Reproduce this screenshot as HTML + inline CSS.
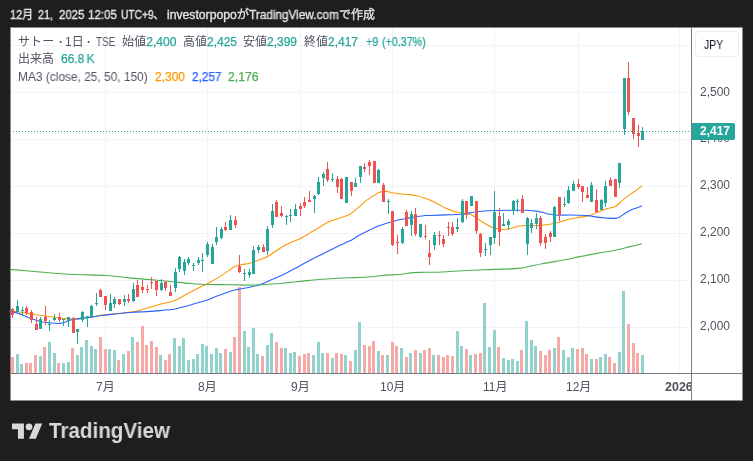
<!DOCTYPE html>
<html><head><meta charset="utf-8"><title>TradingView chart</title>
<style>
html,body{margin:0;padding:0;}
body{width:753px;height:461px;background:#1e1e1e;position:relative;overflow:hidden;font-family:"Liberation Sans","Noto Sans CJK JP",sans-serif;}
.abs{position:absolute;white-space:nowrap;line-height:1;will-change:transform;}
#frame{position:absolute;left:10px;top:27px;width:733px;height:374px;background:#8c8c8c;border-radius:1px;}
#panel{position:absolute;left:11px;top:28px;width:731px;height:372px;background:#fff;}
#chart{position:absolute;left:0;top:0;}
.hd{color:#e4e4e4;font-size:12px;top:9px;-webkit-text-stroke:0.35px #e4e4e4;}
.lg{color:#50535f;font-size:12px;}
.tl{color:#26a69a;-webkit-text-stroke:0.25px #26a69a;}
.ax{color:#50535f;font-size:12px;}
</style></head><body>
<div id="frame"></div><div id="panel"></div>
<svg id="chart" width="753" height="461" viewBox="0 0 753 461" shape-rendering="crispEdges">
<rect x="11" y="45" width="680" height="1" fill="#f0f3fa"/>
<rect x="11" y="92" width="680" height="1" fill="#f0f3fa"/>
<rect x="11" y="139" width="680" height="1" fill="#f0f3fa"/>
<rect x="11" y="186" width="680" height="1" fill="#f0f3fa"/>
<rect x="11" y="233" width="680" height="1" fill="#f0f3fa"/>
<rect x="11" y="280" width="680" height="1" fill="#f0f3fa"/>
<rect x="11" y="327" width="680" height="1" fill="#f0f3fa"/>
<rect x="105" y="28" width="1" height="345" fill="#f0f3fa"/>
<rect x="207" y="28" width="1" height="345" fill="#f0f3fa"/>
<rect x="300" y="28" width="1" height="345" fill="#f0f3fa"/>
<rect x="392" y="28" width="1" height="345" fill="#f0f3fa"/>
<rect x="494" y="28" width="1" height="345" fill="#f0f3fa"/>
<rect x="578" y="28" width="1" height="345" fill="#f0f3fa"/>
<rect x="679" y="28" width="1" height="345" fill="#f0f3fa"/>
<path d="M16 354h3V373h-3zM20 364h3V373h-3zM39 356h3V373h-3zM48 342h3V373h-3zM53 353h3V373h-3zM62 363h3V373h-3zM67 362h3V373h-3zM76 355h3V373h-3zM80 347h3V373h-3zM85 340h3V373h-3zM90 346h3V373h-3zM94 349h3V373h-3zM108 349h3V373h-3zM113 350h3V373h-3zM122 354h3V373h-3zM131 337h3V373h-3zM159 355h3V373h-3zM173 338h3V373h-3zM178 346h3V373h-3zM182 338h3V373h-3zM187 360h3V373h-3zM192 359h3V373h-3zM196 354h3V373h-3zM201 344h3V373h-3zM205 346h3V373h-3zM210 354h3V373h-3zM215 348h3V373h-3zM219 353h3V373h-3zM229 352h3V373h-3zM243 331h3V373h-3zM247 347h3V373h-3zM252 328h3V373h-3zM256 354h3V373h-3zM266 345h3V373h-3zM270 333h3V373h-3zM284 348h3V373h-3zM289 353h3V373h-3zM293 352h3V373h-3zM312 355h3V373h-3zM317 342h3V373h-3zM321 353h3V373h-3zM331 358h3V373h-3zM344 355h3V373h-3zM354 350h3V373h-3zM358 322h3V373h-3zM377 351h3V373h-3zM386 355h3V373h-3zM400 348h3V373h-3zM409 353h3V373h-3zM419 353h3V373h-3zM432 355h3V373h-3zM456 331h3V373h-3zM460 346h3V373h-3zM469 355h3V373h-3zM483 303h3V373h-3zM488 347h3V373h-3zM493 330h3V373h-3zM502 358h3V373h-3zM507 360h3V373h-3zM511 359h3V373h-3zM516 361h3V373h-3zM525 321h3V373h-3zM530 340h3V373h-3zM534 346h3V373h-3zM553 348h3V373h-3zM562 350h3V373h-3zM567 357h3V373h-3zM571 348h3V373h-3zM590 359h3V373h-3zM599 357h3V373h-3zM604 354h3V373h-3zM618 352h3V373h-3zM622 291h3V373h-3zM641 355h3V373h-3z" fill="#92d2cc"/>
<path d="M11 357h3V373h-3zM25 363h3V373h-3zM29 363h3V373h-3zM34 355h3V373h-3zM43 347h3V373h-3zM57 363h3V373h-3zM71 348h3V373h-3zM99 337h3V373h-3zM104 349h3V373h-3zM117 360h3V373h-3zM127 351h3V373h-3zM136 342h3V373h-3zM141 326h3V373h-3zM145 345h3V373h-3zM150 341h3V373h-3zM155 347h3V373h-3zM164 360h3V373h-3zM168 354h3V373h-3zM224 349h3V373h-3zM233 337h3V373h-3zM238 287h3V373h-3zM261 356h3V373h-3zM275 342h3V373h-3zM280 348h3V373h-3zM298 356h3V373h-3zM303 354h3V373h-3zM307 353h3V373h-3zM326 353h3V373h-3zM335 353h3V373h-3zM340 354h3V373h-3zM349 361h3V373h-3zM363 345h3V373h-3zM368 346h3V373h-3zM372 341h3V373h-3zM381 355h3V373h-3zM391 342h3V373h-3zM395 346h3V373h-3zM405 357h3V373h-3zM414 350h3V373h-3zM423 350h3V373h-3zM428 348h3V373h-3zM437 355h3V373h-3zM442 357h3V373h-3zM446 355h3V373h-3zM451 356h3V373h-3zM465 349h3V373h-3zM474 354h3V373h-3zM479 353h3V373h-3zM497 347h3V373h-3zM520 350h3V373h-3zM539 351h3V373h-3zM544 355h3V373h-3zM548 350h3V373h-3zM557 337h3V373h-3zM576 349h3V373h-3zM581 348h3V373h-3zM585 354h3V373h-3zM595 359h3V373h-3zM608 357h3V373h-3zM613 363h3V373h-3zM627 324h3V373h-3zM632 343h3V373h-3zM636 353h3V373h-3z" fill="#f7a9a7"/>
<path d="M10.0 311.1C11.2 311.2 15.0 311.4 17.5 311.8C20.0 312.1 22.5 312.6 25.0 313.0C27.5 313.4 29.8 313.8 32.5 314.2C35.2 314.7 38.3 315.1 41.2 315.5C44.2 315.9 46.9 316.1 50.0 316.5C53.1 316.9 57.3 317.6 60.0 318.0C62.7 318.4 64.2 318.4 66.2 318.6C68.3 318.8 70.2 319.0 72.5 319.0C74.8 319.0 76.9 318.7 80.0 318.4C83.1 318.1 87.0 317.6 91.0 317.0C95.0 316.4 98.9 315.5 104.0 314.9C109.1 314.3 116.1 313.9 121.7 313.2C127.3 312.5 133.0 311.9 137.7 310.9C142.4 309.9 145.9 308.4 150.0 307.2C154.1 306.0 158.0 304.9 162.0 303.8C166.0 302.7 170.0 302.3 174.0 300.8C178.0 299.3 182.0 296.7 186.0 294.6C190.0 292.5 194.4 290.1 198.0 288.2C201.6 286.3 204.5 285.1 207.8 283.4C211.1 281.7 214.1 280.1 217.8 277.9C221.5 275.6 226.8 271.9 229.8 269.9C232.8 267.9 233.8 266.8 235.8 265.9C237.8 265.0 239.5 264.9 241.8 264.5C244.1 264.1 247.0 264.0 249.7 263.3C252.3 262.6 255.0 261.5 257.7 260.5C260.4 259.5 263.0 258.8 265.7 257.5C268.4 256.2 271.0 254.2 273.7 252.5C276.4 250.8 279.0 248.9 281.7 247.3C284.4 245.7 286.6 244.4 289.6 243.0C292.7 241.6 296.6 240.5 300.0 238.8C303.4 237.1 306.7 234.9 310.0 232.9C313.3 230.9 316.7 228.8 320.0 226.9C323.3 225.0 326.7 222.8 330.0 221.3C333.3 219.8 336.7 219.1 340.0 217.9C343.3 216.7 347.0 216.0 350.0 214.3C353.0 212.6 355.2 210.1 357.8 207.9C360.4 205.7 363.1 203.0 365.8 200.9C368.5 198.8 371.6 197.0 373.8 195.6C376.0 194.2 376.8 193.3 378.8 192.6C380.8 191.9 383.3 191.3 385.8 191.4C388.3 191.5 391.1 192.6 393.7 193.0C396.3 193.4 399.0 193.7 401.7 194.0C404.4 194.3 407.0 194.3 409.7 194.6C412.4 194.9 415.0 195.4 417.7 196.0C420.4 196.6 423.6 197.8 425.6 198.4C427.7 199.1 427.9 199.0 430.0 199.9C432.1 200.8 435.3 202.5 438.0 203.9C440.7 205.3 443.3 207.0 446.0 208.3C448.7 209.6 451.3 210.7 454.0 211.5C456.7 212.3 459.3 212.4 462.0 212.9C464.7 213.4 467.3 213.3 470.0 214.3C472.7 215.3 475.3 217.2 478.0 218.9C480.7 220.6 483.3 222.8 486.0 224.3C488.7 225.8 491.3 227.0 494.0 227.9C496.7 228.8 499.3 229.4 502.0 229.5C504.7 229.6 507.3 229.0 510.0 228.5C512.7 228.0 515.3 226.8 518.0 226.3C520.7 225.8 523.3 225.6 526.0 225.5C528.7 225.4 531.3 225.5 534.0 225.5C536.7 225.5 539.3 225.5 542.0 225.3C544.7 225.1 547.3 224.8 550.0 224.3C552.7 223.8 554.8 223.3 558.0 222.5C561.2 221.7 565.8 220.2 569.2 219.3C572.6 218.5 575.4 218.0 578.5 217.4C581.6 216.8 584.6 216.8 587.7 216.0C590.8 215.2 593.8 213.7 596.9 212.5C600.0 211.3 603.0 210.1 606.1 209.1C609.2 208.1 612.9 207.6 615.4 206.4C617.9 205.2 619.1 203.4 620.9 201.8C622.7 200.2 624.2 198.7 626.4 197.1C628.5 195.5 631.2 193.8 633.8 192.0C636.3 190.2 640.4 187.1 641.7 186.1" fill="none" stroke="#ff9800" stroke-width="1.1" stroke-linejoin="round" stroke-linecap="round" shape-rendering="geometricPrecision"/>
<path d="M10.0 311.1C12.1 311.7 19.0 313.6 22.5 314.9C26.0 316.1 28.1 317.5 31.2 318.6C34.4 319.7 37.9 321.0 41.2 321.8C44.6 322.5 48.1 322.7 51.2 323.0C54.4 323.3 57.5 323.6 60.0 323.4C62.5 323.2 64.2 322.4 66.2 321.8C68.3 321.1 70.2 320.0 72.5 319.5C74.8 319.0 76.9 319.0 80.0 318.6C83.1 318.2 87.2 317.8 91.2 317.2C95.2 316.6 97.5 316.0 104.0 315.2C110.5 314.5 122.3 313.1 130.0 312.5C137.7 311.9 144.7 311.8 150.0 311.4C155.3 311.0 158.0 310.8 162.0 310.4C166.0 310.0 170.0 309.9 174.0 309.2C178.0 308.5 182.0 307.3 186.0 306.2C190.0 305.1 194.4 303.9 198.0 302.8C201.6 301.7 204.5 301.0 207.8 299.8C211.1 298.6 214.1 297.2 217.8 295.8C221.5 294.4 226.5 292.5 229.8 291.4C233.1 290.3 234.5 290.1 237.8 289.4C241.1 288.7 245.7 288.2 249.7 287.3C253.7 286.4 257.7 285.4 261.7 284.0C265.7 282.6 269.7 280.4 273.7 278.7C277.7 276.9 281.2 275.6 285.6 273.5C290.0 271.4 295.9 268.0 300.0 265.8C304.1 263.6 306.7 262.0 310.0 260.2C313.3 258.4 316.7 256.8 320.0 255.2C323.3 253.5 326.7 252.0 330.0 250.3C333.3 248.7 336.7 246.9 340.0 245.3C343.3 243.7 346.7 242.5 350.0 240.8C353.3 239.1 356.5 236.7 359.8 234.9C363.1 233.1 366.8 231.3 369.8 229.9C372.8 228.5 375.1 227.4 377.8 226.3C380.5 225.2 383.2 224.3 385.8 223.5C388.4 222.7 391.1 222.0 393.7 221.3C396.3 220.6 399.0 219.9 401.7 219.3C404.4 218.7 407.0 218.4 409.7 217.9C412.4 217.4 415.0 216.9 417.7 216.5C420.4 216.1 423.6 215.7 425.6 215.5C427.7 215.3 426.6 215.6 430.0 215.5C433.4 215.4 440.7 215.1 446.0 214.9C451.3 214.7 458.0 214.6 462.0 214.3C466.0 214.0 467.3 213.4 470.0 212.9C472.7 212.4 474.0 211.9 478.0 211.5C482.0 211.1 488.7 210.7 494.0 210.5C499.3 210.3 504.7 210.3 510.0 210.3C515.3 210.3 522.0 210.2 526.0 210.3C530.0 210.4 531.3 210.6 534.0 210.9C536.7 211.2 539.3 211.7 542.0 212.3C544.7 212.9 547.3 213.8 550.0 214.3C552.7 214.8 554.8 215.2 558.0 215.3C561.2 215.4 565.8 215.0 569.2 215.0C572.6 215.0 575.4 215.1 578.5 215.2C581.6 215.3 584.6 215.3 587.7 215.6C590.8 215.9 593.8 216.7 596.9 217.1C600.0 217.5 603.0 217.8 606.1 218.0C609.2 218.2 613.2 218.5 615.4 218.4C617.5 218.3 617.5 218.2 619.0 217.4C620.5 216.6 622.8 214.9 624.6 213.7C626.5 212.5 628.3 211.3 630.1 210.4C631.9 209.5 633.7 208.9 635.6 208.2C637.5 207.5 640.7 206.4 641.7 206.0" fill="none" stroke="#2962ff" stroke-width="1.1" stroke-linejoin="round" stroke-linecap="round" shape-rendering="geometricPrecision"/>
<path d="M10.0 269.4C15.0 269.8 29.9 271.2 39.9 272.0C49.9 272.8 58.8 273.7 69.8 274.3C80.8 274.9 95.7 274.9 105.7 275.5C115.7 276.1 122.3 277.2 129.7 277.9C137.1 278.6 143.3 279.0 150.0 279.6C156.7 280.2 163.3 280.9 170.0 281.5C176.7 282.1 183.7 282.9 190.0 283.4C196.3 283.9 201.2 284.3 207.8 284.5C214.4 284.7 222.8 284.6 229.8 284.7C236.8 284.8 244.4 285.1 249.7 285.1C255.0 285.1 256.7 285.0 261.7 284.7C266.7 284.4 275.0 283.9 279.7 283.5C284.4 283.1 284.9 282.9 290.0 282.4C295.1 281.9 303.3 281.0 310.0 280.4C316.7 279.8 323.3 279.2 330.0 278.8C336.7 278.4 343.3 278.1 350.0 277.8C356.7 277.5 363.3 277.3 370.0 276.8C376.7 276.3 384.7 275.3 390.0 274.9C395.3 274.5 397.7 274.7 401.6 274.3C405.5 273.9 409.5 272.9 413.5 272.6C417.5 272.3 420.8 272.4 425.5 272.3C430.2 272.2 434.6 272.4 442.0 272.0C449.4 271.6 461.3 270.6 470.0 270.2C478.7 269.8 486.0 269.7 494.0 269.4C502.0 269.1 512.0 268.9 518.0 268.4C524.0 267.9 526.0 267.1 530.0 266.3C534.0 265.5 537.3 264.7 542.0 263.8C546.7 262.9 553.3 261.8 558.0 261.0C562.7 260.2 566.6 259.5 570.0 258.8C573.4 258.1 574.0 257.8 578.5 256.9C583.0 256.0 590.8 254.5 596.9 253.4C603.0 252.3 609.9 251.4 615.4 250.3C620.9 249.2 625.7 247.7 630.1 246.6C634.5 245.5 639.8 244.3 641.7 243.8" fill="none" stroke="#4caf50" stroke-width="1.1" stroke-linejoin="round" stroke-linecap="round" shape-rendering="geometricPrecision"/>
<path d="M17 300h1V312h-1zM16 306h3V312h-3zM22 307h1V316h-1zM21 310h3V311h-3zM40 317h1V329h-1zM39 319h3V329h-3zM49 320h1V331h-1zM48 324h3V325h-3zM54 314h1V321h-1zM53 318h3V320h-3zM63 319h1V326h-1zM62 319h3V320h-3zM68 317h1V327h-1zM67 317h3V321h-3zM77 329h1V344h-1zM76 329h3V332h-3zM82 311h1V322h-1zM81 312h3V320h-3zM87 316h1V327h-1zM86 316h3V318h-3zM91 305h1V317h-1zM90 306h3V317h-3zM96 293h1V306h-1zM95 303h3V304h-3zM110 294h1V311h-1zM109 303h3V311h-3zM114 297h1V308h-1zM113 299h3V304h-3zM124 295h1V306h-1zM123 299h3V302h-3zM133 283h1V302h-1zM132 289h3V301h-3zM161 279h1V291h-1zM160 283h3V290h-3zM175 268h1V292h-1zM174 272h3V288h-3zM179 256h1V272h-1zM178 257h3V269h-3zM184 259h1V275h-1zM183 262h3V271h-3zM188 257h1V265h-1zM187 259h3V263h-3zM193 263h1V271h-1zM192 265h3V266h-3zM198 257h1V265h-1zM197 260h3V263h-3zM202 253h1V272h-1zM201 260h3V261h-3zM207 242h1V257h-1zM206 244h3V255h-3zM212 244h1V264h-1zM211 247h3V264h-3zM216 227h1V245h-1zM215 237h3V242h-3zM221 227h1V239h-1zM220 229h3V238h-3zM230 215h1V230h-1zM229 220h3V230h-3zM244 269h1V281h-1zM243 273h3V274h-3zM249 269h1V278h-1zM248 272h3V275h-3zM253 246h1V274h-1zM252 250h3V274h-3zM258 245h1V253h-1zM257 247h3V250h-3zM267 226h1V255h-1zM266 229h3V251h-3zM272 204h1V228h-1zM271 211h3V225h-3zM286 215h1V225h-1zM285 216h3V217h-3zM290 209h1V222h-1zM289 215h3V216h-3zM295 204h1V216h-1zM294 209h3V216h-3zM314 195h1V213h-1zM313 196h3V199h-3zM318 177h1V195h-1zM317 182h3V194h-3zM323 172h1V186h-1zM322 174h3V178h-3zM332 173h1V182h-1zM331 179h3V180h-3zM346 177h1V203h-1zM345 177h3V203h-3zM355 178h1V187h-1zM354 183h3V187h-3zM360 166h1V183h-1zM359 166h3V177h-3zM378 169h1V183h-1zM377 170h3V183h-3zM388 199h1V214h-1zM387 201h3V202h-3zM402 227h1V244h-1zM401 229h3V243h-3zM411 211h1V236h-1zM410 214h3V225h-3zM420 224h1V238h-1zM419 224h3V237h-3zM434 232h1V250h-1zM433 235h3V245h-3zM457 218h1V232h-1zM456 227h3V229h-3zM462 199h1V223h-1zM461 201h3V222h-3zM471 196h1V206h-1zM470 196h3V206h-3zM485 243h1V256h-1zM484 249h3V250h-3zM490 237h1V255h-1zM489 237h3V245h-3zM494 191h1V244h-1zM493 212h3V238h-3zM503 213h1V226h-1zM502 224h3V226h-3zM508 219h1V230h-1zM507 221h3V225h-3zM513 200h1V215h-1zM512 201h3V211h-3zM517 199h1V212h-1zM516 201h3V202h-3zM527 217h1V255h-1zM526 218h3V244h-3zM531 219h1V233h-1zM530 223h3V228h-3zM536 213h1V229h-1zM535 218h3V224h-3zM554 206h1V237h-1zM553 207h3V237h-3zM564 197h1V207h-1zM563 204h3V205h-3zM568 186h1V204h-1zM567 190h3V203h-3zM573 181h1V191h-1zM572 184h3V191h-3zM591 182h1V202h-1zM590 185h3V202h-3zM601 199h1V210h-1zM600 200h3V210h-3zM605 181h1V207h-1zM604 186h3V203h-3zM619 163h1V188h-1zM618 163h3V183h-3zM624 78h1V135h-1zM623 78h3V129h-3zM642 127h1V140h-1zM641 131h3V140h-3z" fill="#26a69a"/>
<path d="M12 308h1V318h-1zM11 309h3V315h-3zM26 306h1V315h-1zM25 308h3V313h-3zM31 310h1V323h-1zM30 312h3V320h-3zM36 317h1V330h-1zM35 324h3V330h-3zM45 306h1V325h-1zM44 317h3V321h-3zM59 313h1V322h-1zM58 317h3V320h-3zM73 317h1V333h-1zM72 318h3V333h-3zM100 289h1V297h-1zM99 290h3V297h-3zM105 296h1V310h-1zM104 296h3V305h-3zM119 299h1V305h-1zM118 299h3V304h-3zM128 294h1V303h-1zM127 299h3V301h-3zM137 280h1V297h-1zM136 285h3V297h-3zM142 280h1V293h-1zM141 287h3V290h-3zM147 285h1V293h-1zM146 289h3V290h-3zM151 277h1V289h-1zM150 282h3V283h-3zM156 281h1V296h-1zM155 281h3V290h-3zM165 281h1V291h-1zM164 282h3V288h-3zM170 285h1V296h-1zM169 292h3V296h-3zM225 222h1V231h-1zM224 227h3V230h-3zM235 216h1V228h-1zM234 220h3V225h-3zM239 255h1V273h-1zM238 266h3V272h-3zM263 244h1V252h-1zM262 247h3V252h-3zM276 200h1V217h-1zM275 202h3V217h-3zM281 206h1V217h-1zM280 213h3V216h-3zM300 203h1V216h-1zM299 206h3V209h-3zM304 197h1V208h-1zM303 202h3V206h-3zM309 191h1V202h-1zM308 200h3V202h-3zM327 162h1V182h-1zM326 169h3V180h-3zM337 176h1V193h-1zM336 179h3V187h-3zM341 178h1V199h-1zM340 179h3V199h-3zM351 182h1V196h-1zM350 182h3V191h-3zM364 163h1V172h-1zM363 167h3V169h-3zM369 160h1V175h-1zM368 162h3V166h-3zM374 161h1V183h-1zM373 161h3V183h-3zM383 183h1V202h-1zM382 185h3V202h-3zM392 211h1V246h-1zM391 211h3V245h-3zM397 235h1V254h-1zM396 242h3V243h-3zM406 210h1V226h-1zM405 212h3V226h-3zM415 208h1V236h-1zM414 214h3V234h-3zM425 225h1V239h-1zM424 236h3V237h-3zM429 240h1V265h-1zM428 253h3V257h-3zM439 231h1V245h-1zM438 235h3V236h-3zM443 235h1V247h-1zM442 239h3V244h-3zM448 222h1V236h-1zM447 227h3V228h-3zM452 222h1V236h-1zM451 227h3V234h-3zM466 201h1V219h-1zM465 201h3V215h-3zM476 201h1V234h-1zM475 201h3V231h-3zM480 233h1V257h-1zM479 234h3V253h-3zM499 208h1V246h-1zM498 216h3V232h-3zM522 195h1V213h-1zM521 199h3V213h-3zM540 216h1V246h-1zM539 218h3V243h-3zM545 234h1V249h-1zM544 237h3V243h-3zM550 231h1V242h-1zM549 233h3V237h-3zM559 197h1V221h-1zM558 197h3V215h-3zM578 179h1V189h-1zM577 184h3V187h-3zM582 186h1V202h-1zM581 186h3V192h-3zM587 187h1V198h-1zM586 195h3V198h-3zM596 189h1V213h-1zM595 200h3V212h-3zM610 177h1V186h-1zM609 180h3V186h-3zM615 179h1V197h-1zM614 179h3V197h-3zM628 62h1V115h-1zM627 78h3V112h-3zM633 118h1V139h-1zM632 118h3V134h-3zM638 125h1V147h-1zM637 133h3V136h-3z" fill="#ef5350"/>
<path d="M10 131h1v1h-1zM13 131h1v1h-1zM16 131h1v1h-1zM19 131h1v1h-1zM22 131h1v1h-1zM25 131h1v1h-1zM28 131h1v1h-1zM31 131h1v1h-1zM34 131h1v1h-1zM37 131h1v1h-1zM40 131h1v1h-1zM43 131h1v1h-1zM46 131h1v1h-1zM49 131h1v1h-1zM52 131h1v1h-1zM55 131h1v1h-1zM58 131h1v1h-1zM61 131h1v1h-1zM64 131h1v1h-1zM67 131h1v1h-1zM70 131h1v1h-1zM73 131h1v1h-1zM76 131h1v1h-1zM79 131h1v1h-1zM82 131h1v1h-1zM85 131h1v1h-1zM88 131h1v1h-1zM91 131h1v1h-1zM94 131h1v1h-1zM97 131h1v1h-1zM100 131h1v1h-1zM103 131h1v1h-1zM106 131h1v1h-1zM109 131h1v1h-1zM112 131h1v1h-1zM115 131h1v1h-1zM118 131h1v1h-1zM121 131h1v1h-1zM124 131h1v1h-1zM127 131h1v1h-1zM130 131h1v1h-1zM133 131h1v1h-1zM136 131h1v1h-1zM139 131h1v1h-1zM142 131h1v1h-1zM145 131h1v1h-1zM148 131h1v1h-1zM151 131h1v1h-1zM154 131h1v1h-1zM157 131h1v1h-1zM160 131h1v1h-1zM163 131h1v1h-1zM166 131h1v1h-1zM169 131h1v1h-1zM172 131h1v1h-1zM175 131h1v1h-1zM178 131h1v1h-1zM181 131h1v1h-1zM184 131h1v1h-1zM187 131h1v1h-1zM190 131h1v1h-1zM193 131h1v1h-1zM196 131h1v1h-1zM199 131h1v1h-1zM202 131h1v1h-1zM205 131h1v1h-1zM208 131h1v1h-1zM211 131h1v1h-1zM214 131h1v1h-1zM217 131h1v1h-1zM220 131h1v1h-1zM223 131h1v1h-1zM226 131h1v1h-1zM229 131h1v1h-1zM232 131h1v1h-1zM235 131h1v1h-1zM238 131h1v1h-1zM241 131h1v1h-1zM244 131h1v1h-1zM247 131h1v1h-1zM250 131h1v1h-1zM253 131h1v1h-1zM256 131h1v1h-1zM259 131h1v1h-1zM262 131h1v1h-1zM265 131h1v1h-1zM268 131h1v1h-1zM271 131h1v1h-1zM274 131h1v1h-1zM277 131h1v1h-1zM280 131h1v1h-1zM283 131h1v1h-1zM286 131h1v1h-1zM289 131h1v1h-1zM292 131h1v1h-1zM295 131h1v1h-1zM298 131h1v1h-1zM301 131h1v1h-1zM304 131h1v1h-1zM307 131h1v1h-1zM310 131h1v1h-1zM313 131h1v1h-1zM316 131h1v1h-1zM319 131h1v1h-1zM322 131h1v1h-1zM325 131h1v1h-1zM328 131h1v1h-1zM331 131h1v1h-1zM334 131h1v1h-1zM337 131h1v1h-1zM340 131h1v1h-1zM343 131h1v1h-1zM346 131h1v1h-1zM349 131h1v1h-1zM352 131h1v1h-1zM355 131h1v1h-1zM358 131h1v1h-1zM361 131h1v1h-1zM364 131h1v1h-1zM367 131h1v1h-1zM370 131h1v1h-1zM373 131h1v1h-1zM376 131h1v1h-1zM379 131h1v1h-1zM382 131h1v1h-1zM385 131h1v1h-1zM388 131h1v1h-1zM391 131h1v1h-1zM394 131h1v1h-1zM397 131h1v1h-1zM400 131h1v1h-1zM403 131h1v1h-1zM406 131h1v1h-1zM409 131h1v1h-1zM412 131h1v1h-1zM415 131h1v1h-1zM418 131h1v1h-1zM421 131h1v1h-1zM424 131h1v1h-1zM427 131h1v1h-1zM430 131h1v1h-1zM433 131h1v1h-1zM436 131h1v1h-1zM439 131h1v1h-1zM442 131h1v1h-1zM445 131h1v1h-1zM448 131h1v1h-1zM451 131h1v1h-1zM454 131h1v1h-1zM457 131h1v1h-1zM460 131h1v1h-1zM463 131h1v1h-1zM466 131h1v1h-1zM469 131h1v1h-1zM472 131h1v1h-1zM475 131h1v1h-1zM478 131h1v1h-1zM481 131h1v1h-1zM484 131h1v1h-1zM487 131h1v1h-1zM490 131h1v1h-1zM493 131h1v1h-1zM496 131h1v1h-1zM499 131h1v1h-1zM502 131h1v1h-1zM505 131h1v1h-1zM508 131h1v1h-1zM511 131h1v1h-1zM514 131h1v1h-1zM517 131h1v1h-1zM520 131h1v1h-1zM523 131h1v1h-1zM526 131h1v1h-1zM529 131h1v1h-1zM532 131h1v1h-1zM535 131h1v1h-1zM538 131h1v1h-1zM541 131h1v1h-1zM544 131h1v1h-1zM547 131h1v1h-1zM550 131h1v1h-1zM553 131h1v1h-1zM556 131h1v1h-1zM559 131h1v1h-1zM562 131h1v1h-1zM565 131h1v1h-1zM568 131h1v1h-1zM571 131h1v1h-1zM574 131h1v1h-1zM577 131h1v1h-1zM580 131h1v1h-1zM583 131h1v1h-1zM586 131h1v1h-1zM589 131h1v1h-1zM592 131h1v1h-1zM595 131h1v1h-1zM598 131h1v1h-1zM601 131h1v1h-1zM604 131h1v1h-1zM607 131h1v1h-1zM610 131h1v1h-1zM613 131h1v1h-1zM616 131h1v1h-1zM619 131h1v1h-1zM622 131h1v1h-1zM625 131h1v1h-1zM628 131h1v1h-1zM631 131h1v1h-1zM634 131h1v1h-1zM637 131h1v1h-1zM640 131h1v1h-1zM643 131h1v1h-1zM646 131h1v1h-1zM649 131h1v1h-1zM652 131h1v1h-1zM655 131h1v1h-1zM658 131h1v1h-1zM661 131h1v1h-1zM664 131h1v1h-1zM667 131h1v1h-1zM670 131h1v1h-1zM673 131h1v1h-1zM676 131h1v1h-1zM679 131h1v1h-1zM682 131h1v1h-1zM685 131h1v1h-1zM688 131h1v1h-1z" fill="#26a69a"/>
<rect x="691" y="28" width="1" height="372" fill="#787b86"/>
<rect x="11" y="373" width="731" height="1" fill="#787b86"/>
</svg>
<span class="abs hd" id="h1a" style="left:10.3px;top:9px;transform:scaleX(0.9109);transform-origin:0 0;">12月</span>
<span class="abs hd" id="h1b" style="left:38.3px;top:9px;transform:scaleX(0.8989);transform-origin:0 0;">21,</span>
<span class="abs hd" id="h1c" style="left:59.0px;top:9px;transform:scaleX(0.9512);transform-origin:0 0;">2025</span>
<span class="abs hd" id="h1d" style="left:88.3px;top:9px;transform:scaleX(0.9623);transform-origin:0 0;">12:05</span>
<span class="abs hd" id="h1e" style="left:120.8px;top:9px;transform:scaleX(0.8502);transform-origin:0 0;">UTC+9</span>
<span class="abs hd" id="h1f" style="left:153.0px;top:9px;">、</span>
<span class="abs hd" id="h2" style="left:167.4px;top:9px;transform:scaleX(1.0157);transform-origin:0 0;">investorpopo</span>
<span class="abs hd" id="h3" style="left:237.0px;top:9px;">が</span>
<span class="abs hd" id="h4" style="left:249.4px;top:9px;transform:scaleX(0.9826);transform-origin:0 0;">TradingView.com</span>
<span class="abs hd" id="h5" style="left:339.0px;top:9px;">で作成</span>
<span class="abs lg" id="l1a" style="left:18.2px;top:36px;letter-spacing:0.1px;">サトー</span>
<span class="abs lg" id="l1b" style="left:58.7px;top:36px;font-weight:bold;">·</span>
<span class="abs lg" id="l1c" style="left:65.3px;top:36px;">1日</span>
<span class="abs lg" id="l1d" style="left:87.1px;top:36px;font-weight:bold;">·</span>
<span class="abs lg" id="l1e" style="left:95.5px;top:36px;transform:scaleX(0.8311);transform-origin:0 0;">TSE</span>
<span class="abs lg" id="l2" style="left:121.7px;top:36px;transform:scaleX(1.0102);transform-origin:0 0;">始値<span class="tl">2,400</span></span>
<span class="abs lg" id="l3" style="left:182.7px;top:36px;transform:scaleX(0.9954);transform-origin:0 0;">高値<span class="tl">2,425</span></span>
<span class="abs lg" id="l4" style="left:243.4px;top:36px;transform:scaleX(0.9954);transform-origin:0 0;">安値<span class="tl">2,399</span></span>
<span class="abs lg" id="l5" style="left:303.9px;top:36px;transform:scaleX(0.9917);transform-origin:0 0;">終値<span class="tl">2,417</span></span>
<span class="abs lg tl" id="l6" style="left:365.6px;top:36px;transform:scaleX(0.8986);transform-origin:0 0;">+9</span>
<span class="abs lg tl" id="l7" style="left:382.0px;top:36px;transform:scaleX(0.8913);transform-origin:0 0;">(+0.37%)</span>
<span class="abs lg" id="m1" style="left:18.0px;top:53px;">出来高</span>
<span class="abs lg tl" id="m2" style="left:60.9px;top:53px;transform:scaleX(0.9921);transform-origin:0 0;">66.8&#8201;K</span>
<span class="abs lg" id="n1" style="left:18.0px;top:71px;transform:scaleX(0.9921);transform-origin:0 0;">MA3 (close, 25, 50, 150)</span>
<span class="abs lg" id="n2" style="left:155.1px;top:71px;transform:scaleX(0.9956);transform-origin:0 0;color:#ff9800;-webkit-text-stroke:0.25px #ff9800;">2,300</span>
<span class="abs lg" id="n3" style="left:191.7px;top:71px;transform:scaleX(0.9823);transform-origin:0 0;color:#2962ff;-webkit-text-stroke:0.25px #2962ff;">2,257</span>
<span class="abs lg" id="n4" style="left:228.0px;top:71px;transform:scaleX(1.0156);transform-origin:0 0;color:#4caf50;-webkit-text-stroke:0.25px #4caf50;">2,176</span>
<!-- JPY -->
<div class="abs" style="left:695px;top:31px;width:42px;height:24px;border:1px solid #ebedf1;border-radius:4px;"></div>
<span class="abs" id="jpy" style="left:703.6px;top:39px;font-size:12px;color:#131722;transform:scaleX(0.87);transform-origin:0 0">JPY</span>
<!-- price labels -->
<span class="abs ax" id="p1" style="left:699.6px;top:86px">2,500</span>
<span class="abs ax" id="p2" style="left:699.6px;top:132px">2,400</span>
<span class="abs ax" id="p3" style="left:699.6px;top:179px">2,300</span>
<span class="abs ax" id="p4" style="left:699.6px;top:226px">2,200</span>
<span class="abs ax" id="p5" style="left:699.6px;top:273px">2,100</span>
<span class="abs ax" id="p6" style="left:699.6px;top:320px">2,000</span>
<div class="abs" style="left:692px;top:123px;width:43px;height:17px;background:#26a69a;border-radius:0 2px 2px 0;"></div>
<span class="abs" id="pl" style="left:699.8px;top:124.5px;font-size:12px;font-weight:bold;color:#fff">2,417</span>
<!-- time labels -->
<span class="abs ax" id="t1" style="left:96px;top:381px">7月</span>
<span class="abs ax" id="t2" style="left:198px;top:381px">8月</span>
<span class="abs ax" id="t3" style="left:291px;top:381px">9月</span>
<span class="abs ax" id="t4" style="left:380px;top:381px">10月</span>
<span class="abs ax" id="t5" style="left:483px;top:381px">11月</span>
<span class="abs ax" id="t6" style="left:566px;top:381px">12月</span>
<div class="abs" style="left:660px;top:376px;width:31px;height:22px;overflow:hidden"><span class="abs ax" id="t7" style="left:5.4px;top:5px;font-weight:bold;transform:scaleX(1.04);transform-origin:0 0">2026</span></div>
<!-- logo -->
<svg class="abs" style="left:11.8px;top:419.6px" width="31" height="24" viewBox="0 0 36.4 28.2"><path d="M14 22H7V11H0V4h14v18zM28 22h-8l7.5-18h8L28 22z" fill="#d9d9d9"/><circle cx="20" cy="8" r="4" fill="#d9d9d9"/></svg>
<span class="abs" id="tv" style="left:48.9px;top:420.4px;font-size:21.2px;font-weight:bold;color:#d9d9d9;transform:scaleX(0.972);transform-origin:0 0">TradingView</span>
</body></html>
